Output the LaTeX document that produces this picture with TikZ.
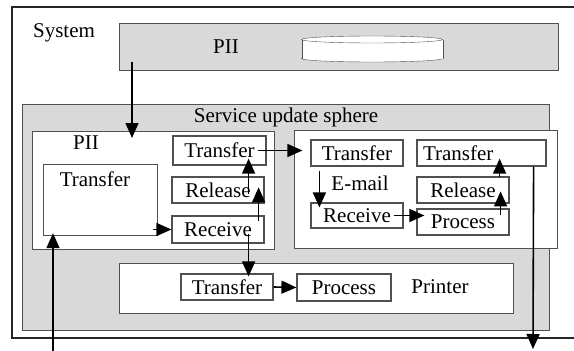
\documentclass[tikz,border=0pt]{standalone}
\usepackage{fontspec}
\setmainfont{Liberation Serif}
\usetikzlibrary{arrows.meta}
\definecolor{boxline}{HTML}{505050}
\definecolor{boxfill}{HTML}{D9D9D9}

\begin{document}
\begin{tikzpicture}[x=1pt,y=-1pt,->,>={Stealth[length=15pt,width=13pt,inset=0pt]},
        every node/.style={font=\fontsize{21}{23}\selectfont},
        panel/.style={draw=boxline,line width=1.2pt,inner sep=0pt,anchor=north west},
        box/.style={panel,fill=white,minimum width=92pt,minimum height=26pt,anchor=center},
        wire/.style={line width=1.6pt}]

  \useasboundingbox (0,0) rectangle (574,351);
  \draw[-,line width=2pt,black!85] (574,7) -- (12,7) -- (12,338) -- (574,338);
  \node (sys) at (64,33) {System};

  % top store
  \node[panel,fill=boxfill,minimum width=439pt,minimum height=47pt] (pii_top) at (119,23) {};
  \node (pii_tt) at (226,47) {PII};
  \draw[-,boxline,fill=white] (372,58.5) ellipse [x radius=70.5,y radius=3.5];
  \fill[white] (302,39.5) rectangle (443,58.5);
  \draw[-,boxline] (302,39.5) -- (302,58.5) (443,39.5) -- (443,58.5);
  \draw[-,boxline,fill=white] (372,39.5) ellipse [x radius=70.5,y radius=3.5];

  % sphere
  \node[panel,fill=boxfill,minimum width=527pt,minimum height=226pt] (sph) at (22,104) {};
  \node (sph_t) at (286,117) {Service update sphere};

  % PII part
  \node[panel,fill=white,minimum width=242pt,minimum height=118pt] (pii_l) at (32,131) {};
  \node (pii_lt) at (86,143) {PII};
  \node[panel,fill=white,minimum width=114pt,minimum height=71pt] (tr_big) at (43,164) {};
  \node (tr_bigt) at (95,179) {Transfer};
  \node[box,minimum width=93pt,minimum height=29pt] (tr_l) at (219.5,150.5) {Transfer};
  \node[box] (rel_l) at (218,190) {Release};
  \node[box,minimum height=27pt] (rcv_l) at (218,229.5) {Receive};

  % E-mail part
  \node[panel,fill=white,minimum width=263pt,minimum height=118pt] (mail) at (294,130) {};
  \node (mail_t) at (360,183) {E-mail};
  \node[box] (tr_e) at (357,153) {Transfer};
  \node[box,minimum height=25pt] (rcv_e) at (357,215.5) {Receive};
  \node[box,text width=117pt,inner xsep=6pt,align=left] (tr2_e) at (481.5,153) {Transfer};
  \node[box] (rel_e) at (463,190) {Release};
  \node[box] (prc_e) at (463,222) {Process};

  % Printer part
  \node[panel,fill=white,minimum width=394pt,minimum height=50pt] (prn) at (119,263) {};
  \node (prn_t) at (440,287) {Printer};
  \node[box] (tr_p) at (227,287) {Transfer};
  \node[box,minimum width=94pt,minimum height=27pt] (prc_p) at (344,287.5) {Process};

  \coordinate (src) at (53,352);
  \coordinate (snk) at (533,349);

  \draw[wire] ([shift={(13,-9)}]pii_top.south west) -- ([shift={(100,7)}]pii_l.north west);
  \draw[wire] (src) -- ([shift={(10,-3)}]tr_big.south west);
  \draw[wire] ([xshift=-5pt]tr_big.east |- rcv_l.west) -- (rcv_l.west);
  \draw[wire] ([shift={(-6,6)}]rcv_l.north east) -- ([shift={(-6,11)}]rel_l.north east);
  \draw[wire] ([shift={(-16,18)}]rel_l.north east) -- ([shift={(-18,-7)}]tr_l.south east);
  \draw[wire] ([shift={(-16,-10)}]rcv_l.south east) -- ([shift={(-25,3)}]tr_p.north east);
  \draw[wire] ([xshift=-9pt]tr_l.east) -- ([xshift=-8pt]tr_e.west |- tr_l.east);
  \draw[wire] ([shift={(9,4)}]tr_e.south west) -- ([shift={(9,5)}]rcv_e.north west);
  \draw[wire] ([xshift=-10pt]rcv_e.east) -- ([xshift=8pt]prc_e.west |- rcv_e.east);
  \draw[wire] ([shift={(-9,7)}]prc_e.north east) -- ([shift={(-9,15)}]rel_e.north east);
  \draw[wire] ([shift={(-10,1)}]rel_e.north east) -- ([shift={(-47,-8)}]tr2_e.south east);
  \draw[wire] ([xshift=-13pt]tr2_e.south east) -- (snk);
  \draw[wire] (tr_p.east) -- (prc_p.west);

\end{tikzpicture}
\end{document}
